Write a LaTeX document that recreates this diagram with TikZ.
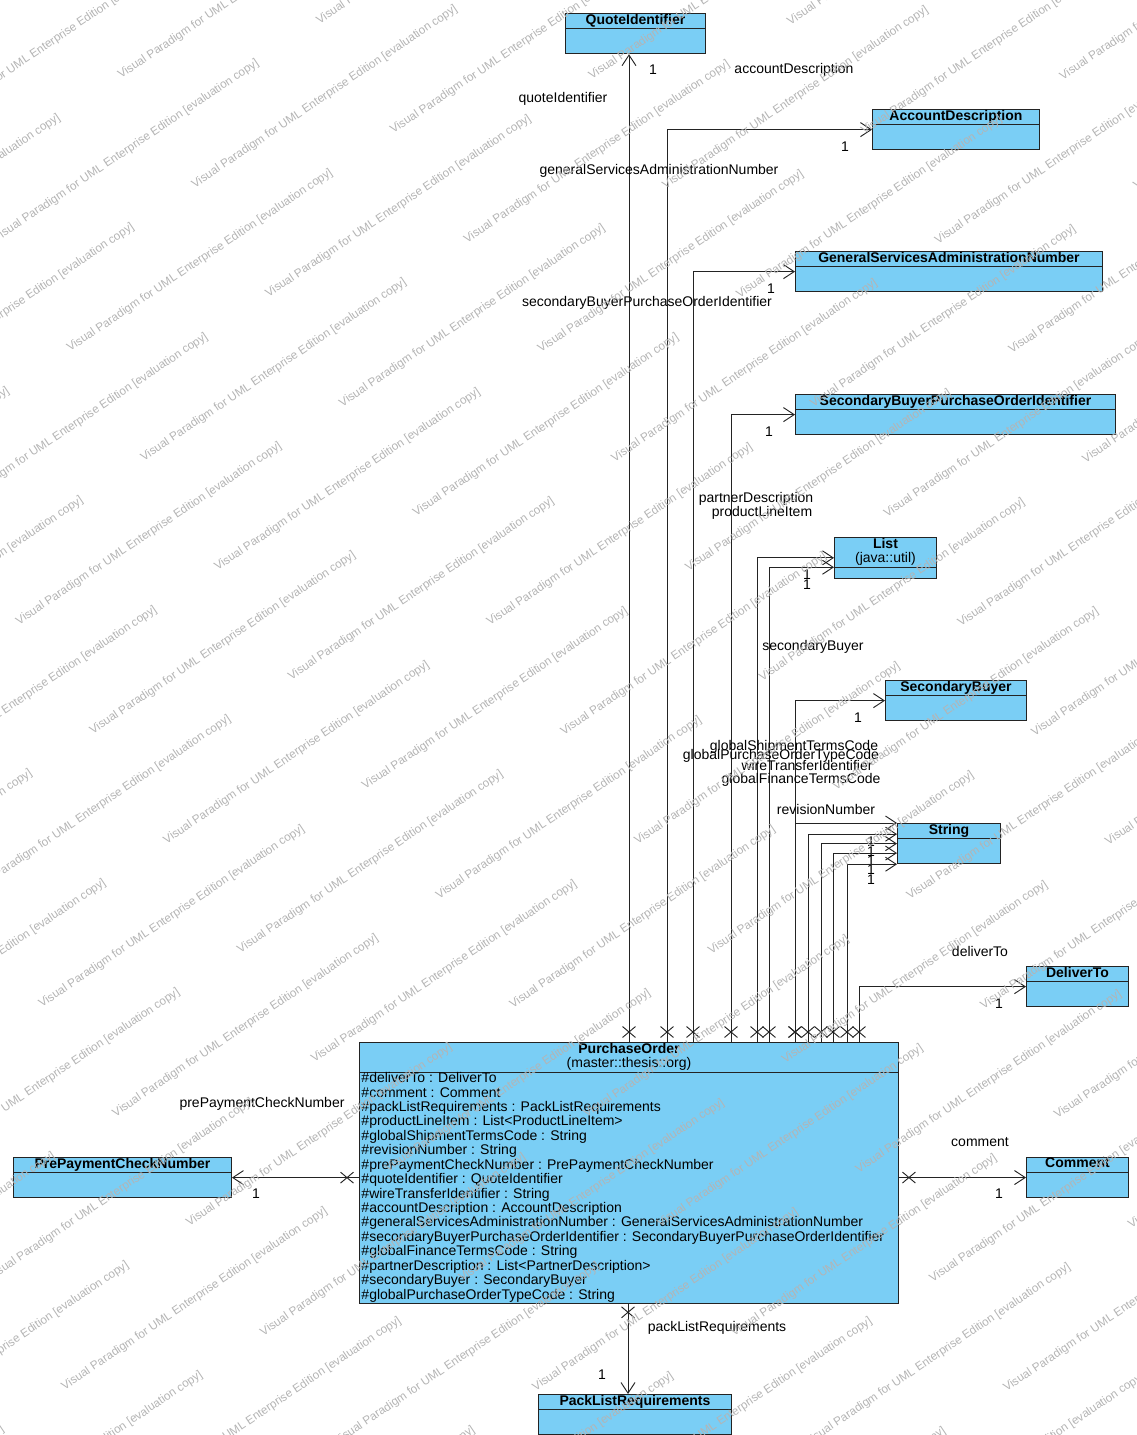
\documentclass[tikz,border=0pt]{standalone}
\usepackage{fontspec}
\setmainfont{Liberation Sans}
\usetikzlibrary{shapes.multipart,shapes.misc,arrows.meta}
\definecolor{clsblue}{RGB}{122,206,245}
\definecolor{lineblack}{RGB}{35,35,35}
\definecolor{wmgray}{RGB}{180,180,180}
\tikzset{
  cls/.style={rectangle split,rectangle split parts=2,draw=lineblack,fill=clsblue,
              anchor=north west,inner xsep=1.5pt,inner ysep=0pt,line width=0.7pt,
              font=\fontsize{10.5}{10.7}\selectfont\bfseries},
  assoc/.style={draw=lineblack,line width=0.7pt,
                -{Straight Barb[length=8pt,width=10.5pt,line width=0.7pt]}},
  lbl/.style={font=\fontsize{10.5}{10.7}\selectfont,inner sep=0pt},
  xmark/.style={cross out,draw=lineblack,line width=0.7pt,minimum width=9pt,
                minimum height=7.5pt,inner sep=0pt},
  xup/.style={xmark,yshift=7.5pt},
  xdown/.style={xmark,yshift=-6pt},
  xleft/.style={xmark,xshift=-9pt},
  xright/.style={xmark,xshift=7.5pt},
  wm/.style={text=wmgray,font=\fontsize{8.8}{9}\selectfont,rotate=34},
}

\begin{document}
\begin{tikzpicture}[x=0.75pt,y=-0.75pt]
  \clip (0,0) rectangle (1136,1435);
  % classes
  \node[cls,minimum width=105pt] (quote) at (565,13) {\strut QuoteIdentifier\nodepart{two}\rule{0pt}{18pt}};
  \node[cls,minimum width=125.25pt] (acc) at (872,109) {\strut AccountDescription\nodepart{two}\rule{0pt}{18pt}};
  \node[cls,minimum width=230.25pt] (gsan) at (795,251) {\strut GeneralServicesAdministrationNumber\nodepart{two}\rule{0pt}{18pt}};
  \node[cls,minimum width=240pt] (sbpoi) at (795,394) {\strut SecondaryBuyerPurchaseOrderIdentifier\nodepart{two}\rule{0pt}{18pt}};
  \node[cls,minimum width=76.5pt] (list) at (834,537) {\begin{tabular}{@{}c@{}}List\\\mdseries (java::util)\end{tabular}\nodepart{two}\rule{0pt}{7.5pt}};
  \node[cls,minimum width=105.75pt] (sbuyer) at (885,680) {\strut SecondaryBuyer\nodepart{two}\rule{0pt}{18pt}};
  \node[cls,minimum width=77.25pt] (str) at (897,823) {\strut String\nodepart{two}\rule{0pt}{18pt}};
  \node[cls,minimum width=76.5pt] (deliver) at (1026,966) {\strut DeliverTo\nodepart{two}\rule{0pt}{18pt}};
  \node[cls,minimum width=76.5pt] (comment) at (1026,1157) {\strut Comment\nodepart{two}\rule{0pt}{18pt}};
  \node[cls,minimum width=163.5pt] (ppcn) at (13,1157) {\strut PrePaymentCheckNumber\nodepart{two}\rule{0pt}{18pt}};
  \node[cls,minimum width=144.75pt] (pack) at (538,1394) {\strut PackListRequirements\nodepart{two}\rule{0pt}{18pt}};
  \node[cls,minimum width=404.25pt,rectangle split part align={center,left}] (po) at (359,1042)
    {\begin{tabular}{@{}c@{}}PurchaseOrder\\\mdseries (master::thesis::org)\end{tabular}%
     \nodepart{two}\mdseries\begin{tabular}{@{}l@{}}
       \#deliverTo : DeliverTo\\
       \#comment : Comment\\
       \#packListRequirements : PackListRequirements\\
       \#productLineItem : List<ProductLineItem>\\
       \#globalShipmentTermsCode : String\\
       \#revisionNumber : String\\
       \#prePaymentCheckNumber : PrePaymentCheckNumber\\
       \#quoteIdentifier : QuoteIdentifier\\
       \#wireTransferIdentifier : String\\
       \#accountDescription : AccountDescription\\
       \#generalServicesAdministrationNumber : GeneralServicesAdministrationNumber\\
       \#secondaryBuyerPurchaseOrderIdentifier : SecondaryBuyerPurchaseOrderIdentifier\\
       \#globalFinanceTermsCode : String\\
       \#partnerDescription : List<PartnerDescription>\\
       \#secondaryBuyer : SecondaryBuyer\\
       \#globalPurchaseOrderTypeCode : String
     \end{tabular}};

  % lanes of the connectors leaving PurchaseOrder
  \coordinate (lq) at (629,0);
  \coordinate (lacc) at (667,0);
  \coordinate (lgsan) at (693,0);
  \coordinate (lsbpoi) at (731,0);
  \coordinate (lpd) at (757,0);
  \coordinate (lpli) at (769,0);
  \coordinate (lsb) at (795,0);
  \coordinate (lrev) at (795,0);
  \coordinate (lgft) at (808,0);
  \coordinate (lwti) at (821,0);
  \coordinate (lgpo) at (833,0);
  \coordinate (lgst) at (847,0);
  \coordinate (ldel) at (859,0);
  \coordinate (lpack) at (628,0);

  % associations
  \draw[assoc] (po.north -| lq) node[xup] (m-q) {} -- (quote.south -| lq)
    node[lbl] (t-q) at (563,99) {quoteIdentifier} node[lbl] (n-q) at (653,70) {1};
  \draw[assoc] (po.north -| lacc) node[xup] (m-acc) {} |- (acc.west)
    node[lbl] (t-acc) at (794,70) {accountDescription} node[lbl] (n-acc) at (845,147) {1};
  \draw[assoc] (po.north -| lgsan) node[xup] (m-gsan) {} |- (gsan.west)
    node[lbl] (t-gsan) at (659,171) {generalServicesAdministrationNumber} node[lbl] (n-gsan) at (771,289) {1};
  \draw[assoc] (po.north -| lsbpoi) node[xup] (m-sbpoi) {} |- (sbpoi.west)
    node[lbl] (t-sbpoi) at (647,303) {secondaryBuyerPurchaseOrderIdentifier} node[lbl] (n-sbpoi) at (769,432) {1};
  \draw[assoc] (po.north -| lpd) node[xup] (m-pd) {} |- (list.west)
    node[lbl] (t-pd) at (756,499) {partnerDescription} node[lbl] (n-pd) at (807,575) {1};
  \draw[assoc] (po.north -| lpli) node[xup] (m-pli) {} |- (list.text split west)
    node[lbl] (t-pli) at (762,513) {productLineItem} node[lbl] (n-pli) at (807,585) {1};
  \draw[assoc] (po.north -| lsb) node[xup] (m-sb) {} |- (sbuyer.west)
    node[lbl] (t-sb) at (813,647) {secondaryBuyer} node[lbl] (n-sb) at (858,718) {1};
  \draw[assoc] (po.north -| lrev) node[xup] (m-rev) {} |- (str.north west)
    node[lbl] (t-rev) at (826,809) {revisionNumber} node[lbl] (n-rev) at (871,842) {1};
  \draw[assoc] (po.north -| lgft) node[xup] (m-gft) {} |- ([yshift=7.1pt]str.west)
    node[lbl] (t-gft) at (801,780) {globalFinanceTermsCode} node[lbl] (n-gft) at (871,852) {1};
  \draw[assoc] (po.north -| lwti) node[xup] (m-wti) {} |- (str.west)
    node[lbl] (t-wti) at (807,765) {wireTransferIdentifier} node[lbl] (n-wti) at (871,861) {1};
  \draw[assoc] (po.north -| lgpo) node[xup] (m-gpo) {} |- ([yshift=-7.1pt]str.west)
    node[lbl] (t-gpo) at (781,756) {globalPurchaseOrderTypeCode} node[lbl] (n-gpo) at (871,870) {1};
  \draw[assoc] (po.north -| lgst) node[xup] (m-gst) {} |- (str.south west)
    node[lbl] (t-gst) at (794,747) {globalShipmentTermsCode} node[lbl] (n-gst) at (871,880) {1};
  \draw[assoc] (po.north -| ldel) node[xup] (m-del) {} |- (deliver.west)
    node[lbl] (t-del) at (980,951) {deliverTo} node[lbl] (n-del) at (999,1004) {1};
  \draw[assoc] (po.east |- comment.west) node[xright] (m-com) {} -- (comment.west)
    node[lbl] (t-com) at (980,1142) {comment} node[lbl] (n-com) at (999,1194) {1};
  \draw[assoc] (po.west |- ppcn.east) node[xleft] (m-pp) {} -- (ppcn.east)
    node[lbl] (t-pp) at (262,1104) {prePaymentCheckNumber} node[lbl] (n-pp) at (256,1194) {1};
  \draw[assoc] (po.south -| lpack) node[xdown] (m-pack) {} -- (pack.north -| lpack)
    node[lbl] (t-pack) at (717,1328) {packListRequirements} node[lbl] (n-pack) at (602,1375) {1};

  % evaluation watermark
  \foreach \r in {0,...,34}{
    \foreach \k in {0,...,6}{
      \pgfmathsetmacro{\wu}{-1150+\k*390+mod(\r,2)*195}
      \pgfmathsetmacro{\wv}{-200+\r*66}
      \node[wm] (wm-\r-\k) at ({\wu*0.829+\wv*0.559},{-\wu*0.559+\wv*0.829})
        {Visual Paradigm for UML Enterprise Edition [evaluation copy]};
    }
  }
\end{tikzpicture}
\end{document}
